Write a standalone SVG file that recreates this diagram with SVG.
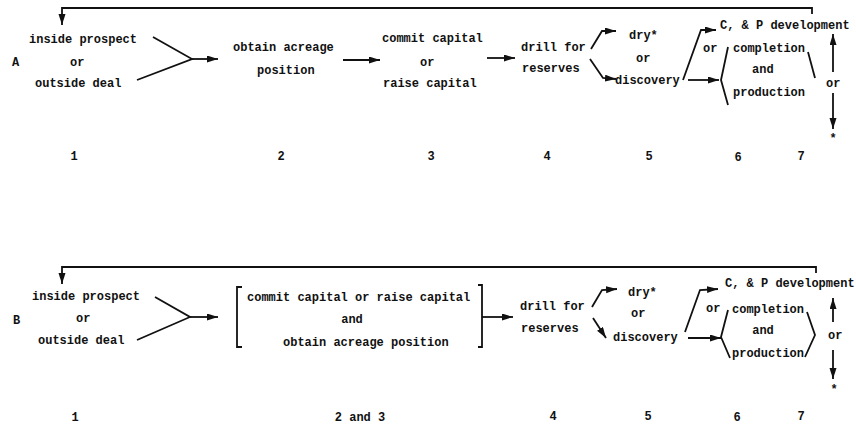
<svg xmlns="http://www.w3.org/2000/svg" width="856" height="429" viewBox="0 0 856 429">
<style>
text{font-family:"Liberation Mono","DejaVu Sans Mono",monospace;font-size:12px;font-weight:bold;fill:#111}
.n{font-size:12px}
.m{text-anchor:middle}
.l{fill:none;stroke:#111;stroke-width:1.8;stroke-linejoin:miter}
.a{marker-end:url(#ah)}
</style>
<defs>
<marker id="ah" markerUnits="userSpaceOnUse" markerWidth="12" markerHeight="8" refX="11" refY="3.5" orient="auto">
<path d="M0,0 L11,3.5 L0,7 Z" fill="#111"/>
</marker>
</defs>
<rect width="856" height="429" fill="#fff"/>

<g id="panelA">
<text x="12" y="66">A</text>
<g id="a1"><text x="29" y="43">inside prospect</text><text x="70" y="66">or</text><text x="35" y="87">outside deal</text></g>
<g id="a2"><text x="233" y="51">obtain acreage</text><text x="257" y="74">position</text></g>
<g id="a3"><text x="382" y="42">commit capital</text><text x="420" y="66">or</text><text x="383" y="87">raise capital</text></g>
<g id="a4"><text x="521" y="51">drill for</text><text x="522" y="72">reserves</text></g>
<g id="a5"><text x="629" y="39">dry*</text><text x="636" y="62">or</text><text x="615" y="84">discovery</text></g>
<g id="a6"><text x="720" y="29">C, &amp; P development</text><text x="703" y="52">or</text><text x="733" y="52">completion</text><text x="752" y="73">and</text><text x="733" y="96">production</text></g>
<g id="a7"><text x="826" y="87">or</text><text x="833" y="142" class="m">*</text></g>
<g id="aNums">
<text class="m n" x="74" y="160">1</text><text class="m n" x="281" y="160">2</text><text class="m n" x="431" y="160">3</text><text class="m n" x="547" y="160">4</text><text class="m n" x="649" y="160">5</text><text class="m n" x="738" y="161">6</text><text class="m n" x="801" y="160">7</text>
</g>
</g>

<g id="panelB">
<text x="13" y="324">B</text>
<g id="b1"><text x="32" y="300">inside prospect</text><text x="76" y="322">or</text><text x="38" y="344">outside deal</text></g>
<g id="b23"><text x="247" y="301">commit capital or raise capital</text><text x="352" y="323" class="m">and</text><text x="283" y="346">obtain acreage position</text></g>
<g id="b4"><text x="520" y="310">drill for</text><text x="521" y="332">reserves</text></g>
<g id="b5"><text x="628" y="296">dry*</text><text x="631" y="317">or</text><text x="613" y="341">discovery</text></g>
<g id="b6"><text x="725" y="287">C, &amp; P development</text><text x="706" y="312">or</text><text x="732" y="313">completion</text><text x="763" y="334" class="m">and</text><text x="732" y="357">production</text></g>
<g id="b7"><text x="828" y="339">or</text><text x="834" y="393" class="m">*</text></g>
<g id="bNums">
<text class="m n" x="75" y="421">1</text><text class="m n" x="360" y="421">2 and 3</text><text class="m n" x="553" y="420">4</text><text class="m n" x="648" y="420">5</text><text class="m n" x="737" y="421">6</text><text class="m n" x="801" y="420">7</text>
</g>
</g>

<g id="connectors">
<!-- A -->
<path class="l a" d="M812,14 L812,8 L62,8 L62,25"/>
<path class="l" d="M153,37 L192,59 L137,80"/>
<path class="l a" d="M192,59 L218,59"/>
<path class="l a" d="M343,60 L380,60"/>
<path class="l a" d="M487,58 L515,58"/>
<path class="l a" d="M591,49 L602,31 L616,31"/>
<path class="l a" d="M590,59 L603,78 L616,79"/>
<path class="l a" d="M683,80 L701,30 L716,30"/>
<path class="l a" d="M688,80 L719,80"/>
<path class="l" d="M728,47 L721,80 L728,105"/>
<path class="l" d="M808,52 L815,78"/>
<path class="l a" d="M833,72 L833,34"/>
<path class="l a" d="M833,93 L833,129"/>
<!-- B -->
<path class="l a" d="M816,273 L816,267 L62,267 L62,284"/>
<path class="l" d="M155,297 L190,317 L137,340"/>
<path class="l a" d="M190,317 L218,317"/>
<path class="l" d="M242,287 L237,287 L237,347 L242,347"/>
<path class="l" d="M478,285 L482,285 L482,347 L478,347"/>
<path class="l a" d="M482,317 L513,317"/>
<path class="l a" d="M592,307 L602,290 L617,289"/>
<path class="l a" d="M593,318 L606,338"/>
<path class="l a" d="M685,332 L700,290 L718,289"/>
<path class="l a" d="M688,338 L721,338"/>
<path class="l" d="M728,310 L721,337 L730,358"/>
<path class="l" d="M807,312 L815,335 L805,357"/>
<path class="l a" d="M833,322 L833,298"/>
<path class="l a" d="M833,350 L833,379"/>
</g>
</svg>
